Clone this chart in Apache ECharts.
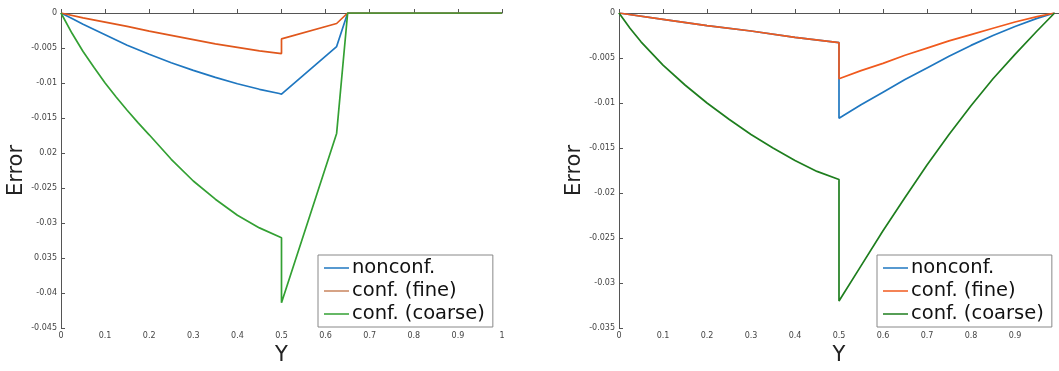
<!DOCTYPE html>
<html>
<head>
<meta charset="utf-8">
<script src="https://cdn.jsdelivr.net/npm/echarts@6/dist/echarts.min.js"></script>
<style>
  html, body { margin: 0; padding: 0; background: #fff; }
  #chart { width: 1059px; height: 371px; }
</style>
</head>
<body>
<div id="chart"></div>
<script>
// left panel: [Y, Error]
const leftNonconf = [[0, 0], [0.025, -0.0008], [0.05, -0.0016], [0.1, -0.0031], [0.15, -0.0046], [0.2, -0.0059], [0.25, -0.0071], [0.3, -0.0082], [0.35, -0.0092], [0.4, -0.0101], [0.45, -0.0109], [0.495, -0.0115], [0.5, -0.0116], [0.625, -0.0048], [0.65, 0], [1, 0]];
const leftFine = [[0, 0], [0.05, -0.0007], [0.1, -0.0013], [0.15, -0.0019], [0.2, -0.0026], [0.25, -0.0032], [0.3, -0.0038], [0.35, -0.0044], [0.4, -0.0049], [0.45, -0.0054], [0.5, -0.0058], [0.5, -0.0037], [0.625, -0.0015], [0.65, 0], [1, 0]];
const leftCoarse = [[0, 0], [0.025, -0.0029], [0.05, -0.0055], [0.075, -0.0078], [0.1, -0.01], [0.125, -0.012], [0.15, -0.0139], [0.175, -0.0157], [0.2, -0.0174], [0.25, -0.0209], [0.3, -0.024], [0.35, -0.0266], [0.4, -0.0289], [0.45, -0.0307], [0.5, -0.0321], [0.5, -0.0414], [0.625, -0.0172], [0.65, 0], [1, 0]];

// right panel
const rightNonconf = [[0, 0], [0.1, -0.0007], [0.2, -0.0014], [0.3, -0.002], [0.4, -0.0027], [0.5, -0.0033], [0.5, -0.0117], [0.55, -0.0102], [0.6, -0.0088], [0.65, -0.0074], [0.7, -0.0061], [0.75, -0.0048], [0.8, -0.0036], [0.85, -0.0025], [0.9, -0.0015], [0.95, -0.0006], [0.99, 0]];
const rightFine = [[0, 0], [0.1, -0.0007], [0.2, -0.0014], [0.3, -0.002], [0.4, -0.0027], [0.5, -0.0033], [0.5, -0.0073], [0.55, -0.0064], [0.6, -0.0056], [0.65, -0.0047], [0.7, -0.0039], [0.75, -0.0031], [0.8, -0.0024], [0.85, -0.0017], [0.9, -0.001], [0.95, -0.0004], [0.99, 0]];
const rightCoarse = [[0, 0], [0.025, -0.0017], [0.05, -0.0032], [0.1, -0.0058], [0.15, -0.008], [0.2, -0.01], [0.25, -0.0118], [0.3, -0.0135], [0.35, -0.015], [0.4, -0.0164], [0.45, -0.0176], [0.5, -0.0185], [0.5, -0.032], [0.55, -0.0281], [0.6, -0.0242], [0.65, -0.0205], [0.7, -0.0169], [0.75, -0.0135], [0.8, -0.0103], [0.85, -0.0073], [0.9, -0.0046], [0.95, -0.002], [0.99, 0]];

const seriesNames = ["nonconf.", "conf. (fine)", "conf. (coarse)"];
const leftYLabels = ["0", "-0.005", "-0.01", "-0.015", "0.02", "-0.025", "-0.03", "0.035", "-0.04", "-0.045"];
const rightYLabels = ["0", "-0.005", "-0.01", "-0.015", "-0.02", "-0.025", "-0.03", "-0.035"];

const FONT = "DejaVu Sans";
const axisColor = "#555";
const leftColors = ["#1f77c0", "#e0571c", "#33a033"];
const rightColors = ["#1f77c0", "#f05a1e", "#1e7e1e"];

const chart = echarts.init(document.getElementById("chart"));

function xAxisFor(idx, showMax) {
  return {
    type: "value",
    gridIndex: idx,
    min: 0,
    max: 1,
    interval: 0.1,
    name: "Y",
    nameLocation: "middle",
    nameGap: 17,
    nameTextStyle: { fontFamily: FONT, fontSize: 21, color: "#222" },
    axisLine: { lineStyle: { color: axisColor, width: 1 } },
    axisTick: { inside: true, length: 4, lineStyle: { color: axisColor } },
    axisLabel: {
      fontFamily: FONT, fontSize: 8, color: "#444", margin: 4,
      showMaxLabel: showMax,
      formatter: (v) => String(Math.round(v * 10) / 10),
    },
    splitLine: { show: false },
  };
}

function yAxisFor(idx, min, labels) {
  return {
    type: "value",
    gridIndex: idx,
    min: min,
    max: 0,
    interval: 0.005,
    name: "Error",
    nameLocation: "middle",
    nameGap: 34,
    nameTextStyle: { fontFamily: FONT, fontSize: 21, color: "#222" },
    axisLine: { show: true, lineStyle: { color: axisColor, width: 1 } },
    axisTick: { show: true, inside: true, length: 4, lineStyle: { color: axisColor } },
    axisLabel: {
      fontFamily: FONT, fontSize: 8, color: "#444", margin: 4,
      formatter: (v) => labels[Math.round(-v / 0.005)],
    },
    splitLine: { show: false },
  };
}

function line(name, data, idx, color) {
  return {
    name: name,
    type: "line",
    xAxisIndex: idx,
    yAxisIndex: idx,
    data: data,
    showSymbol: false,
    symbol: "none",
    lineStyle: { color: color, width: 1.7 },
    itemStyle: { color: color },
  };
}

function legendFor(left, colors) {
  return {
    orient: "vertical",
    left: left,
    top: 255,
    selectedMode: false,
    icon: "rect",
    itemWidth: 25,
    itemHeight: 1.5,
    itemGap: 3,
    padding: [3, 8, 3, 6],
    borderColor: "#888",
    borderWidth: 1,
    backgroundColor: "#fff",
    textStyle: { fontFamily: FONT, fontSize: 19.5, color: "#111", lineHeight: 20, padding: [0, 0, 0, -2] },
    data: seriesNames.map((n, i) => ({ name: n, itemStyle: { color: colors[i] } })),
  };
}

const option = {
  animation: false,
  backgroundColor: "#fff",
  grid: [
    { left: 61, top: 13, width: 441, height: 324 },
    { left: 619, top: 13, width: 442, height: 325 },
  ],
  xAxis: [xAxisFor(0, true), xAxisFor(1, false)],
  yAxis: [yAxisFor(0, -0.045, leftYLabels), yAxisFor(1, -0.035, rightYLabels)],
  legend: [legendFor(318, ["#1f77c0", "#c8845e", "#33a033"]), legendFor(877, rightColors)],
  series: [
    line(seriesNames[0], leftNonconf, 0, leftColors[0]),
    line(seriesNames[1], leftFine, 0, leftColors[1]),
    line(seriesNames[2], leftCoarse, 0, leftColors[2]),
    line(seriesNames[0], rightNonconf, 1, rightColors[0]),
    line(seriesNames[1], rightFine, 1, rightColors[1]),
    line(seriesNames[2], rightCoarse, 1, rightColors[2]),
  ],
};
option && chart.setOption(option);
</script>
</body>
</html>
